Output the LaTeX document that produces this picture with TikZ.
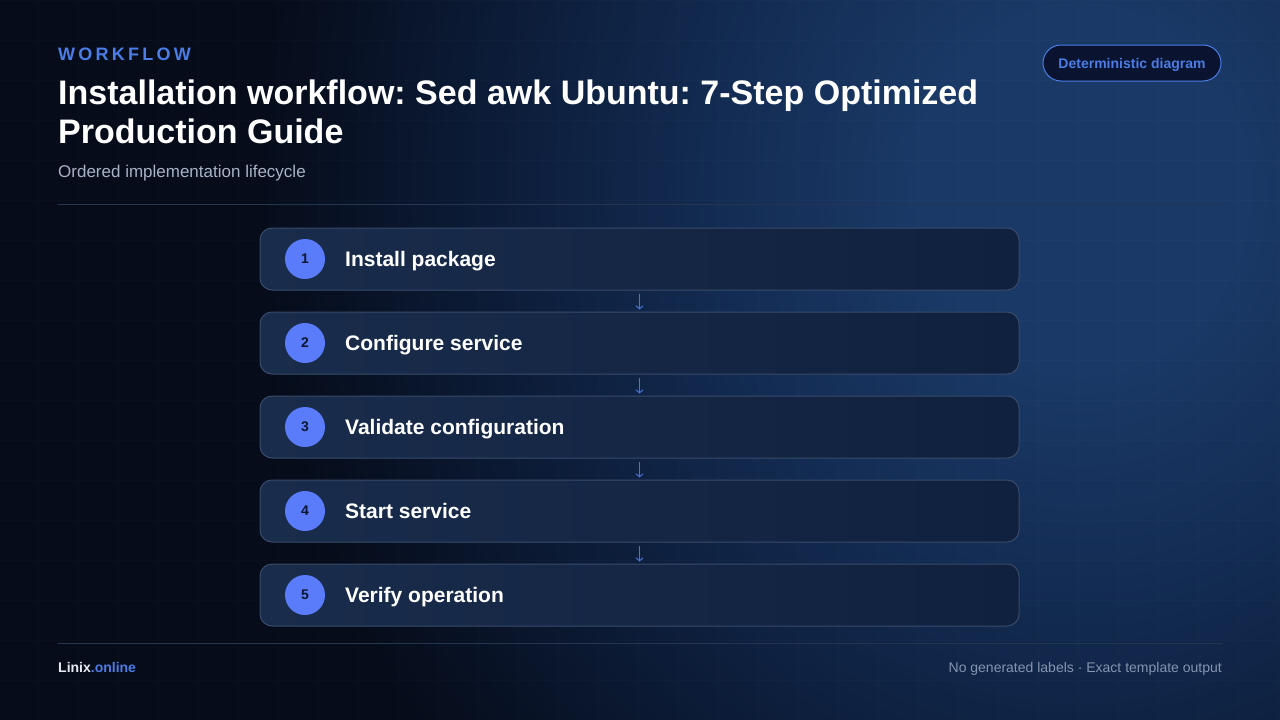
\documentclass[tikz,border=0pt]{standalone}
\usepackage{fontspec}
\setmainfont{Liberation Sans}
\usetikzlibrary{arrows.meta}
\frenchspacing
\definecolor{bgc}{HTML}{060C1A}
\definecolor{glowA}{HTML}{1A3966}
\definecolor{glowB}{HTML}{132C53}
\definecolor{glowC}{HTML}{0C1C38}
\definecolor{accent}{HTML}{4A7DE6}
\definecolor{sepc}{HTML}{26354F}
\definecolor{boxL}{HTML}{1A2C4B}
\definecolor{boxR}{HTML}{0F213E}
\definecolor{boxB}{HTML}{394B6B}
\definecolor{dotc}{HTML}{5A7CFA}
\definecolor{numc}{HTML}{0B1630}
\definecolor{subc}{HTML}{A7B2C6}
\definecolor{footc}{HTML}{8494B0}
\definecolor{badgef}{HTML}{0A1430}
\definecolor{arrc}{HTML}{4574D6}
\pgfdeclareradialshading{glowshade}{\pgfpoint{0bp}{0bp}}{color(0bp)=(glowA); color(5bp)=(glowA); color(11bp)=(glowB); color(18bp)=(glowC); color(25bp)=(bgc); color(50bp)=(bgc)}
\tikzset{
  stepbox/.style={draw=boxB, line width=1pt, rounded corners=12pt, left color=boxL, right color=boxR, minimum width=759pt, minimum height=62pt, inner sep=0pt},
  numdot/.style={circle, fill=dotc, minimum size=40pt, inner sep=0pt, text=numc, font=\fontsize{14}{16}\selectfont\bfseries},
  steptext/.style={anchor=base west, inner sep=0pt, text=white, font=\fontsize{21}{24}\selectfont\bfseries},
  arr/.style={draw=arrc, line width=1pt, -{Straight Barb[length=3pt,width=7pt]}, shorten <=3pt, shorten >=2pt},
  sep/.style={draw=sepc, line width=1pt},
}
\begin{document}
\begin{tikzpicture}[x=1pt,y=-1pt]
\useasboundingbox (0,0) rectangle (1280,720);
% background
\fill[bgc] (0,0) rectangle (1280,720);
\begin{scope}
\clip (0,0) rectangle (1280,720);
\shade[shading=glowshade] (1080,190) ellipse [x radius=820, y radius=900];
\draw[white, opacity=0.014, line width=1pt, step=40pt, shift={(-2pt,0pt)}] (0,0) grid (1320,720);
\end{scope}
% header
\node[anchor=base west, inner sep=0pt, text=accent, font=\fontsize{18}{20}\selectfont\bfseries\addfontfeatures{LetterSpace=18}] (kicker) at (58,60) {WORKFLOW};
\node[anchor=base west, inner sep=0pt, text=white, font=\fontsize{34}{40}\selectfont\bfseries] (title1) at (58,104) {Installation workflow: Sed awk Ubuntu: 7-Step Optimized};
\node[anchor=base west, inner sep=0pt, text=white, font=\fontsize{34}{40}\selectfont\bfseries] (title2) at (58,143) {Production Guide};
\node[anchor=base west, inner sep=0pt, text=subc, font=\fontsize{17}{20}\selectfont] (subtitle) at (58,177) {Ordered implementation lifecycle};
\node[draw=accent, fill=badgef, line width=1pt, rounded corners=18pt, minimum width=178pt, minimum height=36pt, inner sep=0pt, text height=10pt, text depth=0pt, text=accent, font=\fontsize{14}{16}\selectfont\bfseries] (badge) at (1132,63) {Deterministic diagram};
\coordinate (h1) at (58,204);
\coordinate (h2) at (1222,204);
\draw[sep] (h1) -- (h2);
% steps
\foreach \i/\t in {1/Install package, 2/Configure service, 3/Validate configuration, 4/Start service, 5/Verify operation}{
  \pgfmathsetmacro{\cy}{259+84*(\i-1)}
  \node[stepbox] (s\i) at (639.5,\cy) {};
  \node[numdot] (n\i) at (305,\cy) {\i};
  \node[steptext] (t\i) at (345,\cy+7.5) {\t};
}
\foreach \a/\b in {1/2,2/3,3/4,4/5}{
  \draw[arr] (s\a.south) -- (s\b.north);
}
% footer
\coordinate (f1) at (58,643);
\coordinate (f2) at (1222,643);
\draw[sep] (f1) -- (f2);
\node[anchor=base west, inner sep=0pt, font=\fontsize{14}{16}\selectfont\bfseries] (brand) at (58,672) {\textcolor[HTML]{E6EBF3}{Linix}\textcolor{accent}{.online}};
\node[anchor=base east, inner sep=0pt, text=footc, font=\fontsize{14}{16}\selectfont] (foot) at (1222,672) {No generated labels · Exact template output};
\end{tikzpicture}
\end{document}
